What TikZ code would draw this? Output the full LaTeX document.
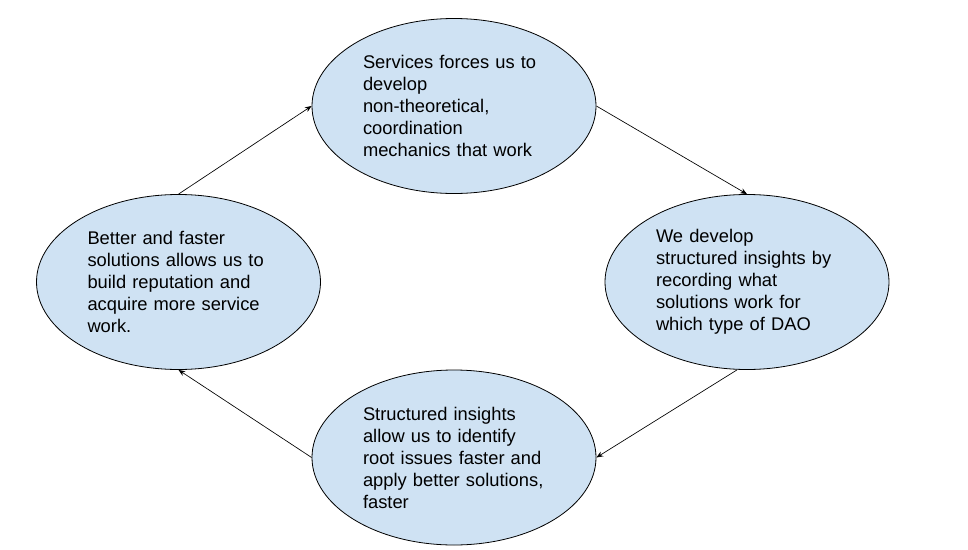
\documentclass[tikz,border=0pt]{standalone}
\usepackage{fontspec}
\setmainfont{Liberation Sans}
\usetikzlibrary{shapes.geometric,arrows.meta}
\definecolor{fillblue}{HTML}{CFE2F3}
\begin{document}
\begin{tikzpicture}[x=0.75pt,y=-0.75pt,
  bubble/.style={ellipse,draw=black,line width=0.6pt,fill=fillblue,
    minimum width=213pt,minimum height=131.25pt,inner sep=0pt,
    text width=136.5pt,align=left,font=\fontsize{13.75}{16.5}\selectfont},
  link/.style={-{Stealth[length=5pt,width=4pt]},line width=0.5pt}]
\useasboundingbox (0,0) rectangle (968,550);
\node[bubble] (top) at (454,106) {Services forces us to\\develop\\non-theoretical,\\coordination\\mechanics that work};
\node[bubble] (right) at (747,282) {We develop\\structured insights by\\recording what\\solutions work for\\which type of DAO};
\node[bubble] (bottom) at (454,457.5) {Structured insights\\allow us to identify\\root issues faster and\\apply better solutions,\\faster};
\node[bubble] (left) at (178.5,282) {Better and faster\\solutions allows us to\\build reputation and\\acquire more service\\work.};
\draw[link] (left.north) -- (top.west);
\draw[link] (top.east) -- (right.north);
\draw[link] ([xshift=-7.5pt]right.south) -- (bottom.east);
\draw[link] (bottom.west) -- (left.south);
\end{tikzpicture}
\end{document}
